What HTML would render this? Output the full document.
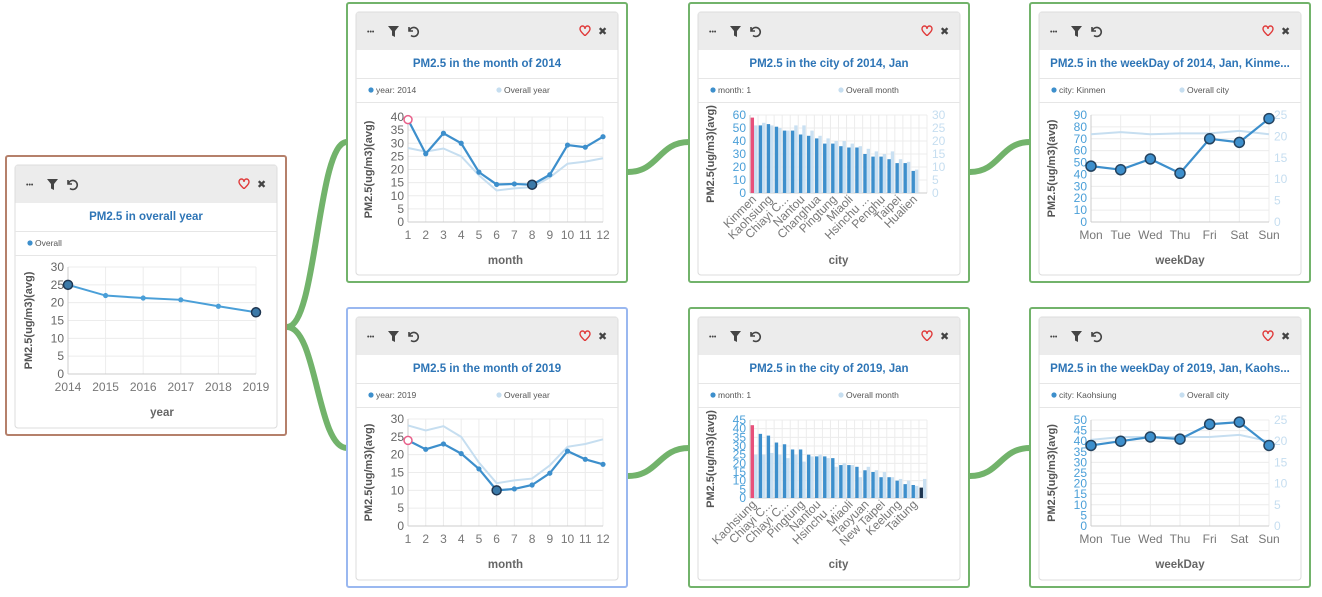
<!DOCTYPE html>
<html><head><meta charset="utf-8">
<style>
html,body{margin:0;padding:0;background:#fff;}
svg{display:block;font-family:"Liberation Sans",sans-serif;}
</style></head>
<body>
<svg id="root" width="1322" height="597" viewBox="0 0 1322 597" xmlns="http://www.w3.org/2000/svg"></svg>
<script>
// ---------- data ----------
const yearCats=["2014","2015","2016","2017","2018","2019"];
const yearVals=[25,22,21.3,20.8,19,17.3];
const monthCats=["1","2","3","4","5","6","7","8","9","10","11","12"];
const month2014=[39,26,33.8,30,19,14.3,14.5,14.2,18,29.3,28.5,32.5];
const month2019=[24,21.5,23,20.3,16,10,10.4,11.5,14.8,21,18.7,17.3];
const monthOverall=[28.2,26.8,28,25,17.8,12,12.8,13.3,17,22.2,23,24.3];
const city2014Labels=["Kinmen","","Kaohsiung","","Chiayi C...","","Nantou","","Changhua","","Pingtung","","Miaoli","","Hsinchu ...","","Penghu","","Taipei","","Hualien",""];
const city2014Vals=[58,52,53,51,48,48,45,44,42,38,38,36,35,35,30,28,28,26,23,23,17,0];
const city2014Overall=[26,27,26,25,24,26,26,24,22,21,20,20,19,18,17,16,15,16,13,12,9,0];
const city2019Labels=["Kaohsiung","","Chiayi C...","","Chiayi C...","","Pingtung","","Nantou","","Hsinchu ...","","Miaoli","","Taoyuan","","New Taipei","","Keelung","","Taitung",""];
const city2019Vals=[42,37,36,32,31,28,28,25,24,24,23,19,19,18,16,15,12,12,10,8,7.5,6];
const city2019Overall=[25,25,26,25,23,25,21,24,25,23,18,20,19,12,18,16,15,12,11,10,7,11];
const weekCats=["Mon","Tue","Wed","Thu","Fri","Sat","Sun"];
const week2014=[47,44,53,41,70,67,87];
const week2014Overall=[20.5,21,20.5,20.7,20.7,21.3,20.5];
const week2019=[38,40,42,41,48,49,38];
const week2019Overall=[20.3,21,21,21,21,21.5,20];

const NS="http://www.w3.org/2000/svg";
const root=document.getElementById('root');
function el(tag,attrs,parent){const e=document.createElementNS(NS,tag);for(const k in attrs)e.setAttribute(k,attrs[k]);(parent||root).appendChild(e);return e;}
function txt(s,attrs,parent){const e=el('text',attrs,parent);e.textContent=s;return e;}

// ---------- connectors ----------
const conns=[[287,327,347,142],[287,327,347,448],[628,172,689,142],[628,476,689,448],[970,172,1030,142],[970,476,1030,448]];
conns.forEach(c=>{const mx=(c[0]+c[2])/2;
 const p=el('path',{d:`M${c[0]},${c[1]} C${mx},${c[1]} ${mx},${c[3]} ${c[2]},${c[3]}`,fill:'none',stroke:'#72b36b','stroke-width':6});
 
 });

// ---------- card ----------
function card(ox,oy,frameColor,title,leg1,leg2,name){
 const g=el('g',{});
 
 
 const f=el('rect',{x:ox,y:oy,width:280,height:279,rx:2,fill:'#fff',stroke:frameColor,'stroke-width':2},g);
 
 
 const cx=ox+9,cy=oy+9;
 el('rect',{x:cx,y:cy,width:262,height:263,rx:3,fill:'#fff',stroke:'#dcdcdc'},g);
 const h=el('rect',{x:cx+0.5,y:cy+0.5,width:261,height:37.5,fill:'#ececec'},g);
 
 
 const m=txt('•••',{x:cx+11,y:cy+22,'font-size':7,fill:'#444'},g);
 
 
 const fl=el('path',{d:`M${cx+32},${cy+14} h11 l-4,5 v6 l-3,-1.5 v-4.5 z`,fill:'#444'},g);
 
 
 const u=el('path',{d:`M${cx+53},${cy+15} v4 h4 M${cx+53.5},${cy+18.5} a4.5,4.5 0 1 1 1.5,5`,fill:'none',stroke:'#444','stroke-width':1.6},g);
 
 
 const hx=cx+224,hy=cy+14;
 const ht=el('path',{d:`M${hx},${hy+3} c0,-4 5,-4 5,0 c0,-4 5,-4 5,0 c0,3 -5,6 -5,7 c0,-1 -5,-4 -5,-7 z`,fill:'none',stroke:'#e03a3a','stroke-width':1.4},g);
 
 
 const x=txt('✖',{x:cx+242,y:cy+23,'font-size':11,fill:'#444'},g);
 
 
 const t=txt(title,{x:cx+131,y:cy+55,'text-anchor':'middle','font-size':11.5,'font-weight':'bold',fill:'#2e75b6'},g);
 
 
 el('line',{x1:cx,x2:cx+262,y1:cy+66.5,y2:cy+66.5,stroke:'#e6e6e6'},g);
 el('line',{x1:cx,x2:cx+262,y1:cy+90.5,y2:cy+90.5,stroke:'#e6e6e6'},g);
 const l1=el('g',{},g);
 
 
 el('circle',{cx:cx+15,cy:cy+78,r:2.6,fill:'#3d8fcc'},l1);
 txt(leg1,{x:cx+20,y:cy+81,'font-size':8.5,fill:'#555'},l1);
 if(leg2){const l2=el('g',{},g);
  
  
  el('circle',{cx:cx+143,cy:cy+78,r:2.6,fill:'#c6def0'},l2);
  txt(leg2,{x:cx+148,y:cy+81,'font-size':8.5,fill:'#555'},l2);}
 return g;
}

// ---------- chart helpers ----------
function axes(g,P,n,yMax,yStep,colored,rMax,rStep,xTitle,band){
 const ys=v=>P.b-(v/yMax)*(P.b-P.t);
 const lc=colored?'#4a9fd8':'#666';
 for(let v=0;v<=yMax+1e-9;v+=yStep){
  el('line',{x1:P.l,x2:P.r,y1:ys(v),y2:ys(v),stroke:'#ececec'},g);
  const t=txt(String(v),{x:P.l-4,y:ys(v)+4,'text-anchor':'end','font-size':12,fill:lc},g);
  
  
 }
 for(let i=0;i<n;i++){
  const x=band?P.l+(P.r-P.l)*(i/n):P.l+(P.r-P.l)*(i/(n-1));
  el('line',{x1:x,x2:x,y1:P.t,y2:P.b,stroke:'#ececec'},g);
 }
 if(band)el('line',{x1:P.r,x2:P.r,y1:P.t,y2:P.b,stroke:'#ececec'},g);
 el('line',{x1:P.l,x2:P.r,y1:P.b,y2:P.b,stroke:'#ccc'},g);
 el('line',{x1:P.l,x2:P.l,y1:P.t,y2:P.b,stroke:'#ccc'},g);
 if(rMax){const rs=v=>P.b-(v/rMax)*(P.b-P.t);
  for(let v=0;v<=rMax;v+=rStep){const t=txt(String(v),{x:P.r+5,y:rs(v)+4,'font-size':12,fill:'#c6def0'},g);
   
   }}
 const yt=txt('PM2.5(ug/m3)(avg)',{x:0,y:0,transform:`translate(${P.l-36},${(P.t+P.b)/2}) rotate(-90)`,'text-anchor':'middle','font-size':11,'font-weight':'bold',fill:'#555'},g);
 
 
 const xt=txt(xTitle,{x:(P.l+P.r)/2,y:P.xt,'text-anchor':'middle','font-size':11.5,'font-weight':'bold',fill:'#666'},g);
 
 
 return ys;
}

function lineChart(g,P,cats,yMax,yStep,series,xTitle,colored,rMax,rStep){
 const ys=axes(g,P,cats.length,yMax,yStep,colored,rMax,rStep,xTitle,false);
 const xs=i=>P.l+(P.r-P.l)*(i/(cats.length-1));
 cats.forEach((c,i)=>{const t=txt(c,{x:xs(i),y:P.b+17,'text-anchor':'middle','font-size':12,fill:'#777'},g);
  
  });
 series.forEach(s=>{
  const sc=s.right?(v=>P.b-(v/rMax)*(P.b-P.t)):ys;
  const pts=s.vals.map((v,i)=>xs(i)+','+sc(v)).join(' ');
  const pl=el('polyline',{points:pts,fill:'none',stroke:s.color,'stroke-width':s.w},g);
  
  
  if(s.dots)s.vals.forEach((v,i)=>{
   let r=s.big?5:2.6,fill=s.color,st='none';
   if(s.big){fill='#3d8fcc';st='#24425e';}
   if(s.hollow===i){fill='#fff';st='#e8608a';r=4;}
   if(s.dark===i){fill='#3b79a8';st='#1e3550';r=4.5;}
   const c=el('circle',{cx:xs(i),cy:sc(v),r:r,fill:fill,stroke:st,'stroke-width':1.5},g);
   
   
  });
 });
}

function barChart(g,P,labels,vals,over,yMax,yStep,oMax,xTitle,rMax,rStep,lastDark){
 const ys=axes(g,P,labels.length,yMax,yStep,true,rMax,rStep,xTitle,true);
 const os=v=>P.b-(v/oMax)*(P.b-P.t);
 const bw=(P.r-P.l)/labels.length;
 vals.forEach((v,i)=>{
  const x=P.l+bw*i;
  const bo=el('rect',{x:x+bw*0.5,y:os(over[i]),width:bw*0.42,height:P.b-os(over[i]),fill:'#c9e0f2'},g);
  
  
  let col='#3d8fcc';if(i===0)col='#e8507a';if(lastDark&&i===vals.length-1)col='#1e3550';
  const b=el('rect',{x:x+bw*0.08,y:ys(v),width:bw*0.42,height:P.b-ys(v),fill:col},g);
  
  
 });
 labels.forEach((c,i)=>{if(!c)return;const x=P.l+bw*(i+0.5);
  const t=txt(c,{x:0,y:0,transform:`translate(${x+3},${P.b+7}) rotate(-45)`,'text-anchor':'end','font-size':12,fill:'#777'},g);
  
  });
}

// ---------- panels ----------
let g;
g=card(6,156,'#b5806b','PM2.5 in overall year','Overall',null,'overall-year-panel');
lineChart(g,{l:68,r:256,t:267,b:374,xt:416},yearCats,30,5,[{vals:yearVals,color:'#4a9fd8',w:2,dots:true,hollow:-1,dark:-1,big:false,name:'series-overall'}],'year',false);
// emphasize first and last points
[0,5].forEach(i=>{const c=el('circle',{cx:68+188*i/5,cy:374-yearVals[i]/30*107,r:4.5,fill:'#3b79a8',stroke:'#1e3550','stroke-width':1.5},g);
 
 });

g=card(347,3,'#72b36b','PM2.5 in the month of 2014','year: 2014','Overall year','month-2014-panel');
lineChart(g,{l:408,r:603,t:117,b:222,xt:264},monthCats,40,5,[
 {vals:monthOverall,color:'#c6def0',w:2,dots:false,name:'series-overall-year'},
 {vals:month2014,color:'#3d8fcc',w:2.2,dots:true,hollow:0,dark:7,name:'series-2014'}],'month',false);

g=card(347,308,'#9ab8f0','PM2.5 in the month of 2019','year: 2019','Overall year','month-2019-panel');
lineChart(g,{l:408,r:603,t:419,b:526,xt:568},monthCats,30,5,[
 {vals:monthOverall,color:'#c6def0',w:2,dots:false,name:'series-overall-year'},
 {vals:month2019,color:'#3d8fcc',w:2.2,dots:true,hollow:0,dark:5,name:'series-2019'}],'month',false);

g=card(689,3,'#72b36b','PM2.5 in the city of 2014, Jan','month: 1','Overall month','city-2014-panel');
barChart(g,{l:750,r:927,t:115,b:193,xt:264},city2014Labels,city2014Vals,city2014Overall,60,10,30,'city',30,5,false);

g=card(689,308,'#72b36b','PM2.5 in the city of 2019, Jan','month: 1','Overall month','city-2019-panel');
barChart(g,{l:750,r:927,t:420,b:498,xt:568},city2019Labels,city2019Vals,city2019Overall,45,5,45,'city',null,null,true);

g=card(1030,3,'#72b36b','PM2.5 in the weekDay of 2014, Jan, Kinme...','city: Kinmen','Overall city','weekday-2014-panel');
lineChart(g,{l:1091,r:1269,t:115,b:222,xt:264},weekCats,90,10,[
 {vals:week2014Overall,color:'#c6def0',w:2,dots:false,right:true,name:'series-overall-city'},
 {vals:week2014,color:'#3d8fcc',w:2.2,dots:true,big:true,name:'series-kinmen'}],'weekDay',true,25,5);

g=card(1030,308,'#72b36b','PM2.5 in the weekDay of 2019, Jan, Kaohs...','city: Kaohsiung','Overall city','weekday-2019-panel');
lineChart(g,{l:1091,r:1269,t:420,b:526,xt:568},weekCats,50,5,[
 {vals:week2019Overall,color:'#c6def0',w:2,dots:false,right:true,name:'series-overall-city'},
 {vals:week2019,color:'#3d8fcc',w:2.2,dots:true,big:true,name:'series-kaohsiung'}],'weekDay',true,25,5);
</script>
</body></html>
